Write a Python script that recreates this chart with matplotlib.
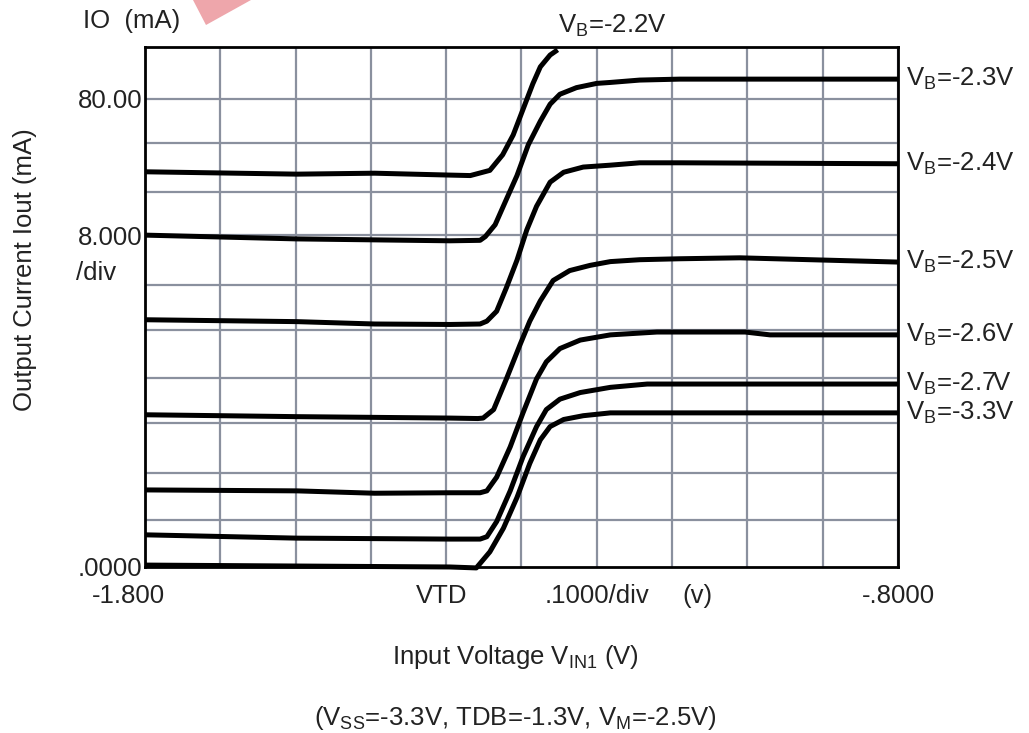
import matplotlib
matplotlib.use("Agg")
import matplotlib.pyplot as plt
import matplotlib.transforms as mtransforms
from matplotlib.patches import Polygon
import numpy as np

plt.rcParams['font.family'] = ['Liberation Sans', 'DejaVu Sans']
plt.rcParams['mathtext.fontset'] = 'custom'
plt.rcParams['mathtext.rm'] = 'Liberation Sans'
plt.rcParams['mathtext.it'] = 'Liberation Sans'

# input voltage (V) and output current in screen divisions
vb_labels = ['-2.2V', '-2.3V', '-2.4V', '-2.5V', '-2.6V', '-2.7V', '-3.3V']

x_22 = [-1.8, -1.598, -1.495, -1.395, -1.368, -1.342, -1.325, -1.311, -1.298, -1.285, -1.275, -1.262, -1.252]
y_22 = [8.36, 8.31, 8.33, 8.29, 8.28, 8.39, 8.72, 9.14, 9.68, 10.22, 10.58, 10.83, 10.94]

x_23 = [-1.8, -1.598, -1.395, -1.355, -1.348, -1.335, -1.320, -1.306, -1.291, -1.275, -1.262, -1.249, -1.227,
        -1.200, -1.182, -1.143, -1.090, -0.8]
y_23 = [7.02, 6.94, 6.90, 6.91, 6.99, 7.24, 7.78, 8.28, 8.93, 9.43, 9.79, 10.00, 10.14,
        10.23, 10.25, 10.30, 10.32, 10.32]

x_24 = [-1.8, -1.598, -1.495, -1.395, -1.355, -1.346, -1.333, -1.320, -1.306, -1.293, -1.280, -1.262, -1.244,
        -1.218, -1.182, -1.143, -1.090, -0.8]
y_24 = [5.23, 5.19, 5.14, 5.13, 5.14, 5.20, 5.41, 5.91, 6.49, 7.13, 7.63, 8.14, 8.35,
        8.46, 8.50, 8.55, 8.55, 8.53]

x_25 = [-1.8, -1.598, -1.395, -1.358, -1.351, -1.337, -1.320, -1.302, -1.289, -1.275, -1.258, -1.236, -1.209,
        -1.182, -1.143, -1.090, -1.010, -0.8]
y_25 = [3.22, 3.18, 3.15, 3.14, 3.15, 3.33, 3.98, 4.70, 5.20, 5.63, 6.06, 6.27, 6.38,
        6.46, 6.50, 6.52, 6.54, 6.45]

x_26 = [-1.8, -1.598, -1.495, -1.395, -1.355, -1.346, -1.333, -1.315, -1.298, -1.280, -1.267, -1.249, -1.222,
        -1.182, -1.120, -1.003, -0.970, -0.8]
y_26 = [1.63, 1.61, 1.56, 1.57, 1.57, 1.61, 1.90, 2.54, 3.26, 3.98, 4.34, 4.62, 4.80,
        4.91, 4.97, 4.97, 4.91, 4.91]

x_27 = [-1.8, -1.598, -1.395, -1.355, -1.346, -1.333, -1.315, -1.298, -1.280, -1.267, -1.249, -1.222, -1.182,
        -1.133, -1.090, -0.8]
y_27 = [0.68, 0.61, 0.59, 0.59, 0.64, 0.96, 1.61, 2.33, 2.97, 3.33, 3.55, 3.69, 3.80,
        3.87, 3.87, 3.87]

x_33 = [-1.8, -1.598, -1.395, -1.360, -1.342, -1.324, -1.306, -1.289, -1.275, -1.262, -1.244, -1.218, -1.182,
        -1.090, -0.8]
y_33 = [0.04, 0.02, 0.0, -0.02, 0.32, 0.82, 1.47, 2.19, 2.69, 2.97, 3.12, 3.20, 3.26,
        3.26, 3.26]

curves = [(x_22, y_22), (x_23, y_23), (x_24, y_24), (x_25, y_25), (x_26, y_26), (x_27, y_27), (x_33, y_33)]

# scope graticule (horizontal lines are not evenly spaced on the original)
x_grid = [-1.8, -1.7, -1.6, -1.5, -1.4, -1.3, -1.2, -1.1, -1.0, -0.9, -0.8]
y_grid = [0.99, 1.99, 3.05, 4.00, 5.01, 5.97, 7.02, 7.93, 8.97, 9.90]
y_ticklabels = {0.0: '.0000', 7.02: '8.000', 9.90: '80.00'}

fig = plt.figure(figsize=(10.29, 7.33), dpi=100)
ax = fig.add_axes([0.1409, 0.2265, 0.7318, 0.7094])
ax.set_xlim(-1.8, -0.8)
ax.set_ylim(0, 11)

grid_col = '#8a909e'
for gx in x_grid:
    ax.axvline(gx, color=grid_col, lw=1.6, zorder=1)
for gy in y_grid:
    ax.axhline(gy, color=grid_col, lw=1.6, zorder=1)

for xs, ys in curves:
    ax.plot(xs, ys, color='black', lw=3.6, solid_joinstyle='round',
            solid_capstyle='butt', zorder=3, clip_on=False)

for s in ax.spines.values():
    s.set_linewidth(2.0)
    s.set_zorder(4)

fs = 18.5
txt = '#222222'

ax.set_xticks([])
ax.set_yticks(list(y_ticklabels.keys()))
ax.set_yticklabels(list(y_ticklabels.values()), fontsize=fs, color=txt)
ax.tick_params(axis='y', length=0, pad=2)

vb = r'$\mathregular{V_B}$='

# curve labels at the right edge, placed at the end value of each trace
right_tr = mtransforms.blended_transform_factory(ax.transAxes, ax.transData)
for lab, (xs, ys) in zip(vb_labels[1:], curves[1:]):
    ax.text(1.01, ys[-1], vb + lab, transform=right_tr,
            fontsize=fs, va='center', ha='left', color=txt)
ax.text(x_22[-1], 11.45, vb + vb_labels[0], fontsize=fs, va='center', ha='left', color=txt)

# top left unit and y axis title
fig.text(0.081, 0.972, 'IO  (mA)', fontsize=fs, va='center', ha='left', color=txt)
fig.text(0.074, 0.627, '/div', fontsize=fs, va='center', ha='left', color=txt)
fig.text(0.024, 0.632, 'Output Current Iout (mA)', fontsize=fs, rotation=90,
         va='center', ha='center', color=txt)

# bottom scale line
tr = mtransforms.blended_transform_factory(ax.transData, fig.transFigure)
yb = 1 - 596 / 733
ax.text(-1.822, yb, '-1.800', transform=tr, fontsize=fs, ha='center', va='center', color=txt)
ax.text(-1.406, yb, 'VTD', transform=tr, fontsize=fs, ha='center', va='center', color=txt)
ax.text(-1.200, yb, '.1000/div', transform=tr, fontsize=fs, ha='center', va='center', color=txt)
ax.text(-1.067, yb, '(v)', transform=tr, fontsize=fs, ha='center', va='center', color=txt)
ax.text(-0.800, yb, '-.8000', transform=tr, fontsize=fs, ha='center', va='center', color=txt)

fig.text(0.5005, 1 - 657 / 733, r'Input Voltage $\mathregular{V_{IN1}}$ (V)', fontsize=fs,
         ha='center', va='center', color=txt)
fig.text(0.5005, 1 - 718 / 733,
         r'($\mathregular{V_{SS}}$=-3.3V, TDB=-1.3V, $\mathregular{V_M}$=-2.5V)',
         fontsize=fs, ha='center', va='center', color=txt)

# fragment of a pink stamp at the top edge
W, H = 1029, 733
frag = np.array([[193, 0], [251, 0], [206, 25]], dtype=float)
frag[:, 0] /= W
frag[:, 1] = 1 - frag[:, 1] / H
fig.patches.append(Polygon(frag, closed=True, transform=fig.transFigure,
                           facecolor='#eea6ab', edgecolor='none', zorder=0))

fig.savefig('out.png', dpi=100)
